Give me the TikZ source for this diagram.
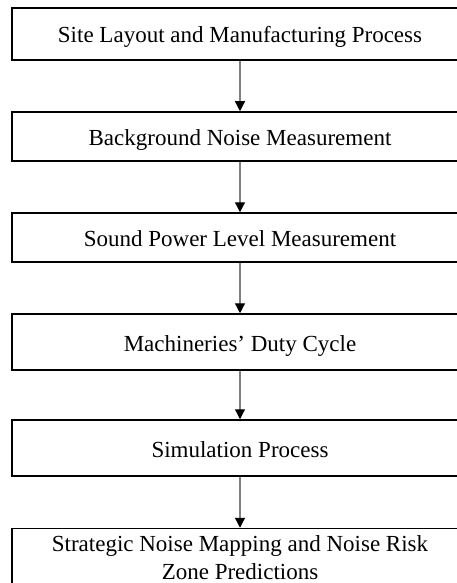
\documentclass[tikz,border=0pt]{standalone}
\usepackage{fontspec}
\setmainfont{Liberation Serif}
\usetikzlibrary{arrows.meta}
\begin{document}
\begin{tikzpicture}[x=1pt,y=-1pt,
  box/.style={draw=black,line width=1.5pt,rectangle,minimum width=456pt,inner sep=0pt,
    font=\fontsize{23}{28}\selectfont,align=center},
  one/.style={text height=18pt,text depth=0pt},
  conn/.style={draw=black!50,line width=1.2pt,-{Triangle[width=10pt,length=10pt,color=black]}}]
\useasboundingbox (0,0) rectangle (457,583);
\clip (0,0) rectangle (457,583);
\fill[white] (0,0) rectangle (457,583);
\node[box,one,minimum height=52pt] (b1) at (240,34) {Site Layout and Manufacturing Process};
\node[box,one,minimum height=49pt] (b2) at (240,136.5) {Background Noise Measurement};
\node[box,one,minimum height=49pt] (b3) at (240,237.5) {Sound Power Level Measurement};
\node[box,one,minimum height=56pt] (b4) at (240,342) {Machineries’ Duty Cycle};
\node[box,one,minimum height=56pt] (b5) at (240,448) {Simulation Process};
\node[box,minimum height=59pt] (b6) at (240,558) {Strategic Noise Mapping and Noise Risk\\Zone Predictions};
\draw[conn] (b1) -- (b2);
\draw[conn] (b2) -- (b3);
\draw[conn] (b3) -- (b4);
\draw[conn] (b4) -- (b5);
\draw[conn] (b5) -- (b6);
\end{tikzpicture}
\end{document}
